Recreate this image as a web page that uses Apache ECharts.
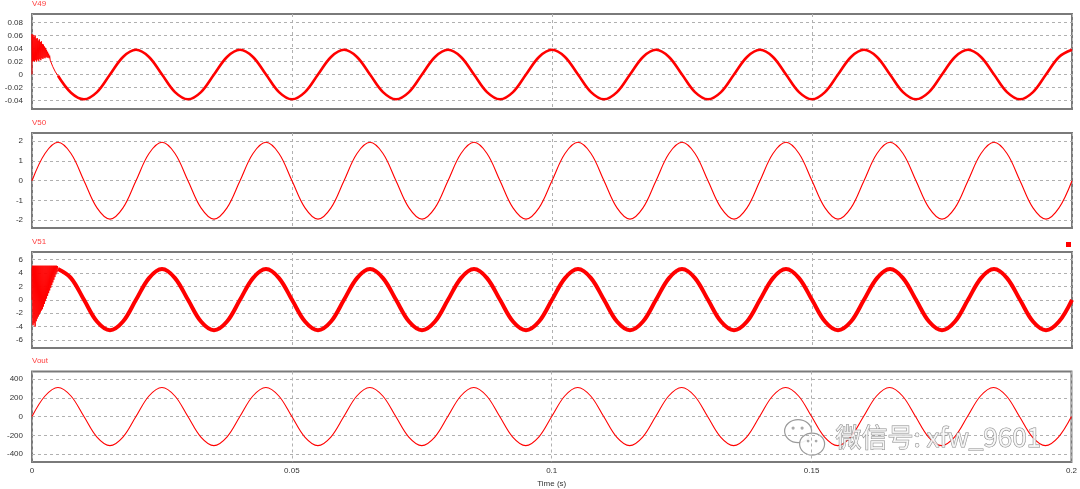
<!DOCTYPE html>
<html><head><meta charset="utf-8">
<script src="https://cdn.jsdelivr.net/npm/echarts@6/dist/echarts.min.js"></script>
<style>html,body{margin:0;padding:0;background:#fff}#c{width:1080px;height:489px}</style>
</head><body><div id="c"></div>
<script>
// ---- data ----
const panelNames = ['V49', 'V50', 'V51', 'Vout'];
const xTickLabels = ['0', '0.05', '0.1', '0.15', '0.2'];
const timeS = [0,0.0025,0.005,0.0075,0.01,0.0125,0.015,0.0175,
0.02,0.0225,0.025,0.0275,0.03,0.0325,0.035,0.0375,
0.04,0.0425,0.045,0.0475,0.05,0.0525,0.055,0.0575,
0.06,0.0625,0.065,0.0675,0.07,0.0725,0.075,0.0775,
0.08,0.0825,0.085,0.0875,0.09,0.0925,0.095,0.0975,
0.1,0.1025,0.105,0.1075,0.11,0.1125,0.115,0.1175,
0.12,0.1225,0.125,0.1275,0.13,0.1325,0.135,0.1375,
0.14,0.1425,0.145,0.1475,0.15,0.1525,0.155,0.1575,
0.16,0.1625,0.165,0.1675,0.17,0.1725,0.175,0.1775,
0.18,0.1825,0.185,0.1875,0.19,0.1925,0.195,0.1975,0.2];

// V49 start-up burst [time, value]
const v49Burst = [[0,0],[0,0.062],[0.0001,0.02],[0.0002,0.061],[0.0003,0.021],[0.0004,0.058],[0.0005,0.02],
[0.0006,0.06],[0.0007,0.022],[0.0008,0.055],[0.0009,0.02],[0.001,0.056],[0.0011,0.023],[0.0012,0.052],
[0.0013,0.021],[0.0014,0.054],[0.0015,0.024],[0.0016,0.05],[0.0017,0.022],[0.0018,0.051],[0.0019,0.025],
[0.002,0.047],[0.0021,0.024],[0.0022,0.046],[0.0023,0.026],[0.0024,0.043],[0.0025,0.025],[0.0026,0.041],
[0.0027,0.027],[0.0028,0.038],[0.0029,0.026],[0.003,0.035],[0.0031,0.026],[0.0032,0.032],[0.0033,0.025],
[0.0034,0.029],[0.0035,0.022],[0.004,0.012],[0.0045,0.004],[0.005,-0.002]];
// V49 from t = 0.005 s
const v49 = [-0.002,-0.028,-0.038,-0.027,
0,0.027,0.038,0.027,0,-0.027,-0.038,-0.027,
0,0.027,0.038,0.027,0,-0.027,-0.038,-0.027,
0,0.027,0.038,0.027,0,-0.027,-0.038,-0.027,
0,0.027,0.038,0.027,0,-0.027,-0.038,-0.027,
0,0.027,0.038,0.027,0,-0.027,-0.038,-0.027,
0,0.027,0.038,0.027,0,-0.027,-0.038,-0.027,
0,0.027,0.038,0.027,0,-0.027,-0.038,-0.027,
0,0.027,0.038,0.027,0,-0.027,-0.038,-0.027,
0,0.027,0.038,0.027,0,-0.027,-0.038,-0.027,
0,0.027,0.038];

// V50 from t = 0
const v50 = [0,1.38,1.95,1.38,0,-1.38,-1.95,-1.38,
0,1.38,1.95,1.38,0,-1.38,-1.95,-1.38,
0,1.38,1.95,1.38,0,-1.38,-1.95,-1.38,
0,1.38,1.95,1.38,0,-1.38,-1.95,-1.38,
0,1.38,1.95,1.38,0,-1.38,-1.95,-1.38,
0,1.38,1.95,1.38,0,-1.38,-1.95,-1.38,
0,1.38,1.95,1.38,0,-1.38,-1.95,-1.38,
0,1.38,1.95,1.38,0,-1.38,-1.95,-1.38,
0,1.38,1.95,1.38,0,-1.38,-1.95,-1.38,
0,1.38,1.95,1.38,0,-1.38,-1.95,-1.38,0];

// V51 start-up burst [time, value]
const v51Burst = [[0,0],[0,4.6],[0.0001,5.1],[0.0002,-3.8],[0.0003,5.1],[0.0004,-3.5],[0.0005,5.1],[0.0006,-4.0],
[0.0007,5.1],[0.0008,-3.2],[0.0009,5.1],[0.001,-2.8],[0.0011,5.1],[0.0012,-2.5],[0.0013,5.1],[0.0014,-2.2],
[0.0015,5.1],[0.0016,-1.9],[0.0017,5.1],[0.0018,-1.6],[0.0019,5.1],[0.002,-1.4],[0.0021,5.1],[0.0022,-1.0],
[0.0023,5.1],[0.0024,-0.6],[0.0025,5.1],[0.0026,-0.2],[0.0027,5.1],[0.0028,0.2],[0.0029,5.1],[0.003,0.6],
[0.0031,5.1],[0.0032,1.0],[0.0033,5.1],[0.0034,1.4],[0.0035,5.1],[0.0036,1.8],[0.0037,5.1],[0.0038,2.2],
[0.0039,5.1],[0.004,2.6],[0.0041,5.1],[0.0042,3.0],[0.0043,5.1],[0.0044,3.4],[0.0045,5.1],[0.0046,3.8],
[0.0047,5.1],[0.0048,4.1],[0.0049,5.05],[0.005,4.6]];
// V51 from t = 0.005 s
const v51 = [4.6,3.25,0,-3.25,-4.55,-3.25,0,3.25,
4.6,3.25,0,-3.25,-4.55,-3.25,0,3.25,
4.6,3.25,0,-3.25,-4.55,-3.25,0,3.25,
4.6,3.25,0,-3.25,-4.55,-3.25,0,3.25,
4.6,3.25,0,-3.25,-4.55,-3.25,0,3.25,
4.6,3.25,0,-3.25,-4.55,-3.25,0,3.25,
4.6,3.25,0,-3.25,-4.55,-3.25,0,3.25,
4.6,3.25,0,-3.25,-4.55,-3.25,0,3.25,
4.6,3.25,0,-3.25,-4.55,-3.25,0,3.25,
4.6,3.25,0,-3.25,-4.55,-3.25,0];

// Vout from t = 0
const vout = [0,219,310,219,0,-219,-310,-219,
0,219,310,219,0,-219,-310,-219,
0,219,310,219,0,-219,-310,-219,
0,219,310,219,0,-219,-310,-219,
0,219,310,219,0,-219,-310,-219,
0,219,310,219,0,-219,-310,-219,
0,219,310,219,0,-219,-310,-219,
0,219,310,219,0,-219,-310,-219,
0,219,310,219,0,-219,-310,-219,
0,219,310,219,0,-219,-310,-219,0];

const yTicks = [
  [-0.04, -0.02, 0, 0.02, 0.04, 0.06, 0.08],
  [-2, -1, 0, 1, 2],
  [-6, -4, -2, 0, 2, 4, 6],
  [-400, -200, 0, 200, 400]
];
const yMins = [-0.053, -2.4, -7.2, -484];
const yMaxs = [0.093, 2.42, 7.15, 480];

// ---- layout / style ----
const gridTops = [14, 133, 252, 371.5];
const gridHeights = [95, 95, 96, 92];
const titleTops = [0, 119, 238, 357];
const RED = '#ff0000';
const FONT = '"Liberation Sans", Arial, sans-serif';
const SMOOTH = 0.35;

const pairs = (ts, vs) => vs.map((v, i) => [ts[i], v]);

const grids = [], xAxes = [], yAxes = [], titles = [];
for (let i = 0; i < 4; i++) {
  grids.push({left: 32, right: 8, top: gridTops[i], height: gridHeights[i],
    show: true, borderColor: '#7a7a7a', borderWidth: 2, backgroundColor: 'transparent'});
  const last = i === 3;
  xAxes.push({type: 'value', gridIndex: i, min: 0, max: 0.2, interval: 0.05,
    axisLine: {show: false}, axisTick: {show: false},
    axisLabel: {show: last, fontSize: 8, color: '#333', fontFamily: FONT, margin: 5,
      formatter: (v) => xTickLabels[Math.round(v / 0.05)] ?? ''},
    splitLine: {show: true, lineStyle: {color: '#b0b0b0', type: [3, 3], width: 1}},
    name: last ? 'Time (s)' : '', nameLocation: 'middle', nameGap: 18,
    nameTextStyle: {fontSize: 8, color: '#333', fontFamily: FONT}});
  yAxes.push({type: 'value', gridIndex: i, min: yMins[i], max: yMaxs[i],
    axisLine: {show: false},
    axisTick: {show: false, customValues: yTicks[i]},
    axisLabel: {fontSize: 8, color: '#333', fontFamily: FONT, margin: 9, customValues: yTicks[i]},
    splitLine: {show: true, lineStyle: {color: '#b0b0b0', type: [3, 3], width: 1}}});
  titles.push({text: panelNames[i], left: 32, top: titleTops[i], padding: 0,
    textStyle: {fontSize: 8, color: '#ff4040', fontWeight: 'normal', fontFamily: FONT}});
}

const lineSeries = (idx, data, width, smooth) => ({
  type: 'line', xAxisIndex: idx, yAxisIndex: idx, data: data, showSymbol: false,
  smooth: smooth, lineStyle: {color: RED, width: width}, itemStyle: {color: RED},
  animation: false, silent: true, clip: true});

const series = [
  lineSeries(0, v49Burst, 1, false),
  lineSeries(0, pairs(timeS.slice(2), v49), 2.6, SMOOTH),
  lineSeries(1, pairs(timeS, v50), 1.1, SMOOTH),
  lineSeries(2, v51Burst, 1, false),
  lineSeries(2, pairs(timeS.slice(2), v51), 4, SMOOTH),
  lineSeries(3, pairs(timeS, vout), 1.1, SMOOTH)
];

const chart = echarts.init(document.getElementById('c'), null, {renderer: 'canvas'});
chart.setOption({
  animation: false,
  backgroundColor: '#fff',
  title: titles,
  grid: grids, xAxis: xAxes, yAxis: yAxes, series: series,
  graphic: [
    {type: 'rect', left: 1066, top: 242, shape: {width: 5, height: 5}, style: {fill: RED}, z: 100},
    {type: 'group', left: 784, top: 419, z: 100, children: [
      {type: 'ellipse', shape: {cx: 14, cy: 12, rx: 13.5, ry: 11.5}, style: {fill: 'rgba(255,255,255,0.85)', stroke: '#9a9a9a', lineWidth: 1.2}},
      {type: 'circle', shape: {cx: 9, cy: 9, r: 1.6}, style: {fill: '#aaa'}},
      {type: 'circle', shape: {cx: 18, cy: 9, r: 1.6}, style: {fill: '#aaa'}},
      {type: 'ellipse', shape: {cx: 28, cy: 25, rx: 12.5, ry: 11}, style: {fill: 'rgba(255,255,255,0.9)', stroke: '#9a9a9a', lineWidth: 1.2}},
      {type: 'circle', shape: {cx: 24, cy: 22, r: 1.4}, style: {fill: '#aaa'}},
      {type: 'circle', shape: {cx: 32, cy: 22, r: 1.4}, style: {fill: '#aaa'}}
    ]},
    {type: 'text', left: 835, top: 424, z: 100, style: {text: '微信号: xfw_9601',
      font: '26px "Noto Sans CJK SC", sans-serif', fill: 'rgba(250,250,250,0.8)', stroke: '#8a8a8a', lineWidth: 1}}
  ]
});
</script></body></html>
